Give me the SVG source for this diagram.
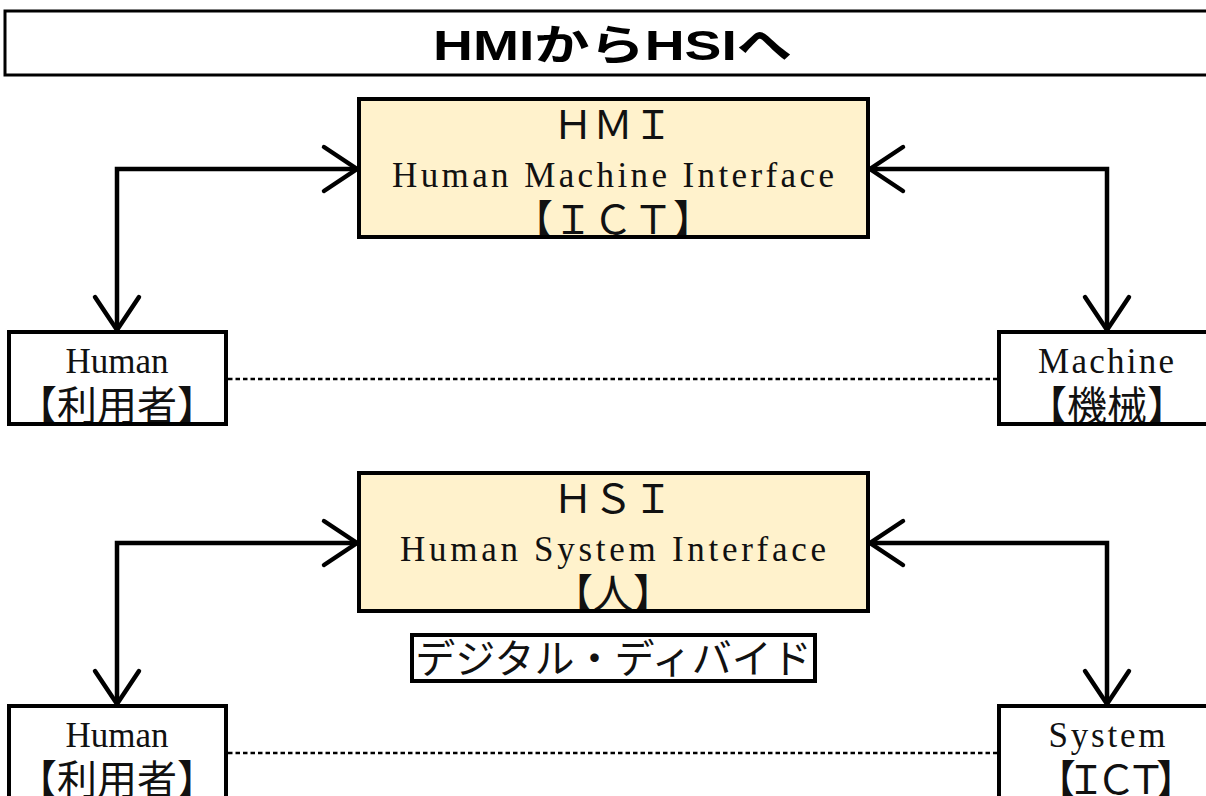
<svg xmlns="http://www.w3.org/2000/svg" width="1206" height="796" viewBox="0 0 1206 796">
  <style>
    .hub{fill:#FFF2CC}
    .end{fill:#FFFFFF}
    .outline{fill:none;stroke:#000;stroke-width:4}
    .lat{font-family:"Liberation Serif","Noto Sans CJK JP",serif;font-size:35px;text-anchor:middle;fill:#111}
    .cjk{font-family:"Noto Sans CJK JP",sans-serif;font-size:40px;font-weight:400;text-anchor:middle;fill:#111}
    .title{font-family:"Liberation Sans","Noto Sans CJK JP",sans-serif;font-weight:bold;font-size:42px;text-anchor:middle;fill:#000}
    .link{fill:none;stroke:#000;stroke-width:4.5;marker-start:url(#chev);marker-end:url(#chev)}
    .dot{fill:none;stroke:#000;stroke-width:2.5;stroke-dasharray:4.5 3}
  </style>
  <defs>
    <marker id="chev" viewBox="-40 -30 46 60" refX="0" refY="0" markerWidth="46" markerHeight="60" markerUnits="userSpaceOnUse" orient="auto-start-reverse">
      <path d="M-33,-22 L0,0 L-33,22" fill="none" stroke="#000" stroke-width="4.5" stroke-linecap="round"/>
    </marker>
    <clipPath id="cHMI"><rect x="359" y="99" width="509" height="138"/></clipPath>
    <clipPath id="cHSI"><rect x="359" y="473" width="509" height="138"/></clipPath>
    <clipPath id="cHu1"><rect x="9" y="332" width="217" height="92"/></clipPath>
    <clipPath id="cMa"><rect x="999" y="332" width="220" height="92"/></clipPath>
    <clipPath id="cHu2"><rect x="9" y="706" width="217" height="100"/></clipPath>
    <clipPath id="cSy"><rect x="999" y="706" width="220" height="100"/></clipPath>
  </defs>

  <rect width="1206" height="796" fill="#FFFFFF"/>

  <!-- heading banner -->
  <g id="title">
    <rect x="5" y="11" width="1210" height="64" fill="#FFFFFF" stroke="#000" stroke-width="3"/>
    <text class="title" x="612.5" y="60" textLength="359" lengthAdjust="spacingAndGlyphs">HMIからHSIへ</text>
  </g>

  <!-- connectors -->
  <g id="connectors">
    <path class="link" d="M117,330 V169 H357"/>
    <path class="link" d="M870,169 H1107 V330"/>
    <path class="dot" d="M228,379 H997"/>
    <path class="link" d="M117,704 V543 H357"/>
    <path class="link" d="M870,543 H1107 V704"/>
    <path class="dot" d="M228,753 H997"/>
  </g>

  <!-- upper diagram -->
  <g id="hmi">
    <rect class="hub" x="359" y="99" width="509" height="138"/>
    <g clip-path="url(#cHMI)">
      <text class="cjk" x="613" y="139">ＨＭＩ</text>
      <text class="lat" x="613" y="187" textLength="442" lengthAdjust="spacing">Human Machine Interface</text>
      <text class="cjk" x="613" y="234">【ＩＣＴ】</text>
    </g>
    <rect class="outline" x="359" y="99" width="509" height="138"/>
  </g>

  <g id="human1">
    <rect class="end" x="9" y="332" width="217" height="92"/>
    <g clip-path="url(#cHu1)">
      <text class="lat" x="117" y="373">Human</text>
      <text class="cjk" x="117" y="420">【利用者】</text>
    </g>
    <rect class="outline" x="9" y="332" width="217" height="92"/>
  </g>

  <g id="machine">
    <rect class="end" x="999" y="332" width="220" height="92"/>
    <g clip-path="url(#cMa)">
      <text class="lat" x="1106" y="373" textLength="136" lengthAdjust="spacing">Machine</text>
      <text class="cjk" x="1107" y="420">【機械】</text>
    </g>
    <rect class="outline" x="999" y="332" width="220" height="92"/>
  </g>

  <!-- lower diagram -->
  <g id="hsi">
    <rect class="hub" x="359" y="473" width="509" height="138"/>
    <g clip-path="url(#cHSI)">
      <text class="cjk" x="613" y="513">ＨＳＩ</text>
      <text class="lat" x="613" y="561" textLength="426" lengthAdjust="spacing">Human System Interface</text>
      <text class="cjk" x="613" y="608">【人】</text>
    </g>
    <rect class="outline" x="359" y="473" width="509" height="138"/>
  </g>

  <g id="divide">
    <rect x="412" y="635" width="403" height="46" fill="#FFFFFF" stroke="#000" stroke-width="4"/>
    <text class="cjk" x="613.5" y="673">デジタル・ディバイド</text>
  </g>

  <g id="human2">
    <rect class="end" x="9" y="706" width="217" height="100"/>
    <g clip-path="url(#cHu2)">
      <text class="lat" x="117" y="747">Human</text>
      <text class="cjk" x="117" y="794">【利用者】</text>
    </g>
    <rect class="outline" x="9" y="706" width="217" height="100"/>
  </g>

  <g id="system">
    <rect class="end" x="999" y="706" width="220" height="100"/>
    <g clip-path="url(#cSy)">
      <text class="lat" x="1107" y="747" textLength="117" lengthAdjust="spacing">System</text>
      <text class="cjk" x="1116" y="794" textLength="160" lengthAdjust="spacing">【ＩＣＴ】</text>
    </g>
    <rect class="outline" x="999" y="706" width="220" height="100"/>
  </g>
</svg>
